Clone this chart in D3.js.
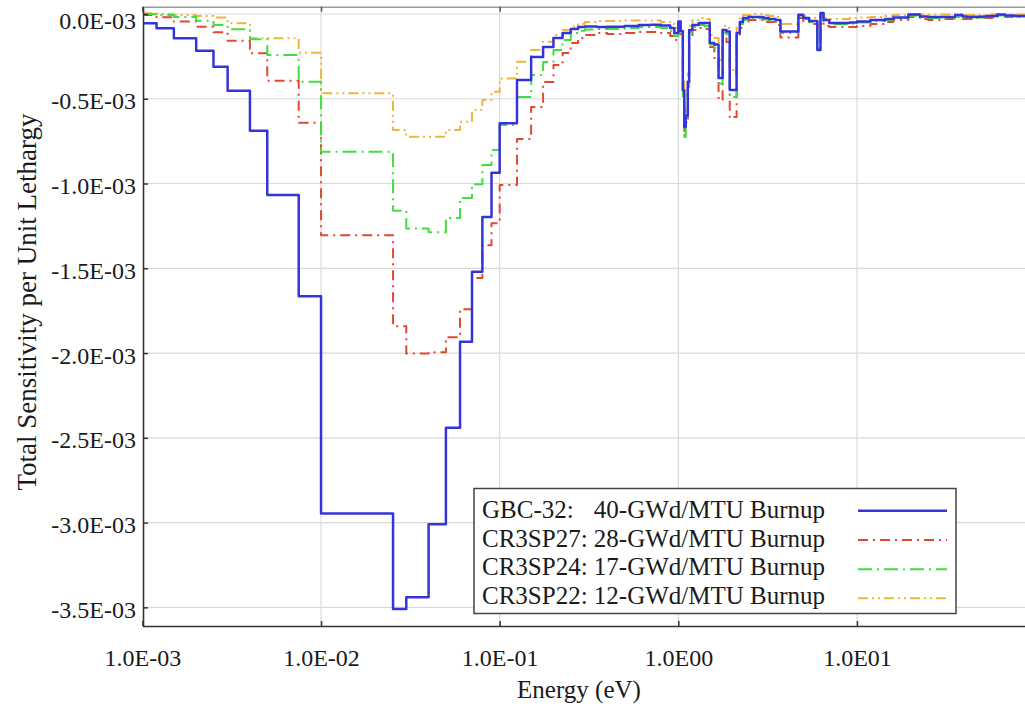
<!DOCTYPE html>
<html>
<head>
<meta charset="utf-8">
<script src="https://cdn.jsdelivr.net/npm/d3@7"></script>
<style>
  html, body { margin: 0; padding: 0; background: #fff; }
  svg { display: block; }
  text { font-family: "Liberation Serif", "Times New Roman", serif; fill: #1a1a1a; }
</style>
</head>
<body>
<svg id="chart" width="1025" height="708"></svg>
<script>
// ---- DATA (sensitivities in units of 1E-03 per unit lethargy) ----
const energyBounds = [
  0.001, 0.0012, 0.0015, 0.002, 0.0025, 0.003, 0.004, 0.005, 0.0075, 0.01,
  0.0253, 0.03, 0.04, 0.05, 0.06, 0.07, 0.08, 0.09, 0.1, 0.125,
  0.15, 0.175, 0.2, 0.225, 0.25, 0.275, 0.3, 0.35, 0.4, 0.5,
  0.6, 0.7, 0.8, 0.9, 0.95, 1.0, 1.03, 1.06, 1.08, 1.1,
  1.13, 1.15, 1.2, 1.3, 1.4, 1.5, 1.59, 1.68, 1.77, 1.86,
  1.94, 2.0, 2.12, 2.21, 2.3, 2.47, 2.67, 3.0, 3.2, 3.5,
  3.73, 4.1, 4.7, 5.0, 5.4, 6.0, 6.25, 6.5, 7.0, 8.1,
  9.1, 10, 11.9, 14.4, 16, 19.4, 22.5, 25, 30, 35.5,
  39.1, 41, 45.2, 50.6, 53.4, 61, 67.5, 76, 82, 90, 100
];

const gbc32 = [
  -0.055, -0.084, -0.143, -0.217, -0.311, -0.453, -0.689, -1.068, -1.665, -2.946,
  -3.51, -3.44, -3.01, -2.44, -1.934, -1.52, -1.198, -0.936, -0.645, -0.39,
  -0.254, -0.195, -0.142, -0.112, -0.089, -0.077, -0.074, -0.077, -0.075, -0.071,
  -0.065, -0.063, -0.068, -0.083, -0.112, -0.045, -0.10, -0.45, -0.667, -0.60,
  -0.40, -0.094, -0.065, -0.053, -0.053, -0.171, -0.18, -0.378, -0.094, -0.104,
  -0.449, -0.449, -0.112, -0.047, -0.024, -0.018, -0.018, -0.024, -0.03, -0.035,
  -0.104, -0.104, -0.006, -0.024, -0.041, -0.213, 0.006, -0.035, -0.053, -0.053,
  -0.05, -0.044, -0.035, -0.03, -0.021, -0.003, -0.015, -0.018, -0.018, -0.006,
  -0.015, -0.018, -0.017, -0.015, -0.012, -0.003, -0.009, -0.012, -0.012, -0.012
];

const cr3sp27 = [
  -0.006, -0.019, -0.045, -0.075, -0.108, -0.158, -0.232, -0.394, -0.642, -1.305,
  -1.842, -2.003, -1.995, -1.907, -1.741, -1.558, -1.364, -1.234, -1.009, -0.738,
  -0.549, -0.401, -0.301, -0.23, -0.171, -0.142, -0.124, -0.112, -0.118, -0.112,
  -0.106, -0.106, -0.112, -0.13, -0.153, -0.083, -0.12, -0.48, -0.69, -0.62,
  -0.42, -0.13, -0.094, -0.083, -0.089, -0.195, -0.26, -0.508, -0.142, -0.165,
  -0.614, -0.608, -0.142, -0.083, -0.047, -0.035, -0.035, -0.047, -0.047, -0.065,
  -0.139, -0.139, -0.024, -0.041, -0.059, -0.15, -0.003, -0.071, -0.077, -0.077,
  -0.077, -0.071, -0.059, -0.047, -0.035, -0.018, -0.03, -0.035, -0.03, -0.018,
  -0.03, -0.03, -0.024, -0.024, -0.024, -0.015, -0.018, -0.018, -0.018, -0.018
];

const cr3sp24 = [
  0.0, -0.006, -0.018, -0.04, -0.065, -0.09, -0.149, -0.242, -0.40, -0.813,
  -1.161, -1.265, -1.287, -1.204, -1.086, -1.004, -0.891, -0.803, -0.655, -0.49,
  -0.36, -0.283, -0.213, -0.153, -0.112, -0.099, -0.092, -0.089, -0.089, -0.083,
  -0.077, -0.077, -0.083, -0.10, -0.13, -0.071, -0.11, -0.50, -0.726, -0.64,
  -0.43, -0.106, -0.077, -0.065, -0.071, -0.18, -0.20, -0.41, -0.11, -0.12,
  -0.49, -0.49, -0.12, -0.06, -0.035, -0.027, -0.027, -0.033, -0.038, -0.045,
  -0.112, -0.112, -0.012, -0.03, -0.048, -0.20, 0.0, -0.045, -0.06, -0.06,
  -0.057, -0.05, -0.042, -0.036, -0.027, -0.01, -0.021, -0.024, -0.024, -0.012,
  -0.021, -0.024, -0.021, -0.02, -0.018, -0.009, -0.014, -0.015, -0.015, -0.015
];

const cr3sp22 = [
  0.004, 0.0, -0.006, -0.012, -0.021, -0.055, -0.143, -0.143, -0.228, -0.468,
  -0.685, -0.724, -0.724, -0.685, -0.636, -0.567, -0.508, -0.459, -0.38, -0.282,
  -0.213, -0.164, -0.124, -0.094, -0.075, -0.059, -0.047, -0.041, -0.041, -0.038,
  -0.038, -0.038, -0.047, -0.059, -0.083, -0.035, -0.09, -0.40, -0.60, -0.55,
  -0.35, -0.07, -0.035, -0.024, -0.03, -0.124, -0.141, -0.27, -0.071, -0.083,
  -0.33, -0.33, -0.071, -0.024, -0.006, -0.006, 0.0, -0.006, -0.012, -0.018,
  -0.059, -0.059, 0.0, -0.012, -0.024, -0.08, 0.006, -0.024, -0.03, -0.03,
  -0.024, -0.021, -0.018, -0.012, -0.006, 0.0, -0.003, -0.003, -0.003, 0.0,
  -0.006, -0.006, -0.006, -0.006, -0.003, 0.0, -0.003, -0.003, -0.003, -0.003
];

const seriesLabels = ["GBC-32:", "CR3SP27:", "CR3SP24:", "CR3SP22:"];
const seriesBurnups = ["40-GWd/MTU Burnup", "28-GWd/MTU Burnup", "17-GWd/MTU Burnup", "12-GWd/MTU Burnup"];
const yTicks = [0, -0.5, -1.0, -1.5, -2.0, -2.5, -3.0, -3.5];
const xTicks = [0.001, 0.01, 0.1, 1, 10];
const xTickLabels = ["1.0E-03", "1.0E-02", "1.0E-01", "1.0E00", "1.0E01"];

// ---- LAYOUT / STYLE ----
const svg = d3.select("#chart");
const L = 143, T = 6.7, B = 626;
const x = d3.scaleLog().domain([0.001, 100]).range([142.4, 1035.6]);
const y = d3.scaleLinear().domain([-3.61, 0.043]).range([B, T]);

const styles = [
  { data: gbc32,   color: "#3434dc", width: 2.5, dash: null },
  { data: cr3sp27, color: "#e4472f", width: 2,   dash: "10,5,2,5" },
  { data: cr3sp24, color: "#3ee03e", width: 2,   dash: "14,5,2,5" },
  { data: cr3sp22, color: "#efb43a", width: 2,   dash: "10,4,2,4,2,4" }
];

// grid
const grid = svg.append("g");
grid.selectAll("line.gx").data(xTicks.slice(1)).join("line")
  .attr("x1", d => x(d)).attr("x2", d => x(d)).attr("y1", T).attr("y2", B)
  .attr("stroke", "#d9d9d9").attr("stroke-width", 1.2);
grid.selectAll("line.gy").data(yTicks).join("line")
  .attr("x1", L).attr("x2", 1025).attr("y1", d => y(d)).attr("y2", d => y(d))
  .attr("stroke", "#d9d9d9").attr("stroke-width", 1.2);

// top frame line with small ticks
const topAxis = svg.append("g").attr("transform", `translate(0,${T})`)
  .call(d3.axisTop(x).tickValues(xTicks).tickSize(-5).tickFormat(""));
topAxis.select(".domain").attr("stroke", "#9a9a9a").attr("stroke-width", 1.5);
topAxis.selectAll(".tick line").attr("stroke", "#555").attr("stroke-width", 1.5);

// clip
svg.append("clipPath").attr("id", "plotclip").append("rect")
  .attr("x", L).attr("y", T - 2).attr("width", 1025 - L).attr("height", B - T + 2);

const line = d3.line().x(d => x(d[0])).y(d => y(d[1])).curve(d3.curveStepAfter);
const toPts = vals => {
  const pts = vals.map((v, i) => [energyBounds[i], v]);
  pts.push([energyBounds[vals.length], vals[vals.length - 1]]);
  return pts;
};

const plot = svg.append("g").attr("clip-path", "url(#plotclip)");
[3, 1, 2, 0].forEach(i => {
  const s = styles[i];
  plot.append("path")
    .attr("d", line(toPts(s.data)))
    .attr("fill", "none")
    .attr("stroke", s.color)
    .attr("stroke-width", s.width)
    .attr("stroke-dasharray", s.dash)
    .attr("stroke-linejoin", "round");
});

// left axis
const yAxis = svg.append("g").attr("transform", `translate(${L},0)`)
  .call(d3.axisLeft(y).tickValues(yTicks).tickSizeInner(-5).tickSizeOuter(0).tickPadding(7)
    .tickFormat(d => (d === 0 ? "0.0" : d.toFixed(1)) + "E-03"));
yAxis.select(".domain").attr("stroke", "#333").attr("stroke-width", 1.6);
yAxis.selectAll(".tick line").attr("stroke", "#333").attr("stroke-width", 1.5);
yAxis.selectAll(".tick text").attr("font-size", 24).attr("font-family", "Liberation Serif, serif")
  .attr("fill", "#1a1a1a").attr("dy", d => d === 0 ? "0.6em" : "0.42em");

// bottom axis
const xAxis = svg.append("g").attr("transform", `translate(0,${B})`)
  .call(d3.axisBottom(x).tickValues(xTicks).tickSizeInner(-5).tickSizeOuter(0).tickPadding(23)
    .tickFormat((d, i) => xTickLabels[i]));
xAxis.select(".domain").attr("stroke", "#333").attr("stroke-width", 1.6);
xAxis.selectAll(".tick line").attr("stroke", "#333").attr("stroke-width", 1.5);
xAxis.selectAll(".tick text").attr("font-size", 24).attr("font-family", "Liberation Serif, serif")
  .attr("fill", "#1a1a1a");

// axis titles
svg.append("text").attr("transform", "translate(36,302) rotate(-90)")
  .attr("text-anchor", "middle").attr("font-size", 27).text("Total Sensitivity per Unit Lethargy");
svg.append("text").attr("x", 579).attr("y", 698)
  .attr("text-anchor", "middle").attr("font-size", 25).text("Energy (eV)");

// legend
const lg = svg.append("g");
lg.append("rect").attr("x", 474).attr("y", 488.5).attr("width", 482).attr("height", 125)
  .attr("fill", "#fff").attr("stroke", "#444").attr("stroke-width", 1.5);
const probe = lg.append("text").attr("font-size", 25).attr("x", 0).attr("y", -100)
  .attr("xml:space", "preserve").text("CR3SP27: ");
const prefixW = probe.node().getComputedTextLength();
probe.remove();
const rowBase = [518, 546.7, 575.3, 604];
const rowLine = [510.7, 540, 569.3, 598.3];
seriesLabels.forEach((lab, i) => {
  lg.append("text").attr("x", 482).attr("y", rowBase[i]).attr("font-size", 25).text(lab);
  lg.append("text").attr("x", 482 + prefixW).attr("y", rowBase[i]).attr("font-size", 25).text(seriesBurnups[i]);
  const s = styles[i];
  lg.append("line").attr("x1", 858).attr("x2", 947).attr("y1", rowLine[i]).attr("y2", rowLine[i])
    .attr("stroke", s.color).attr("stroke-width", s.width).attr("stroke-dasharray", s.dash);
});
</script>
</body>
</html>
